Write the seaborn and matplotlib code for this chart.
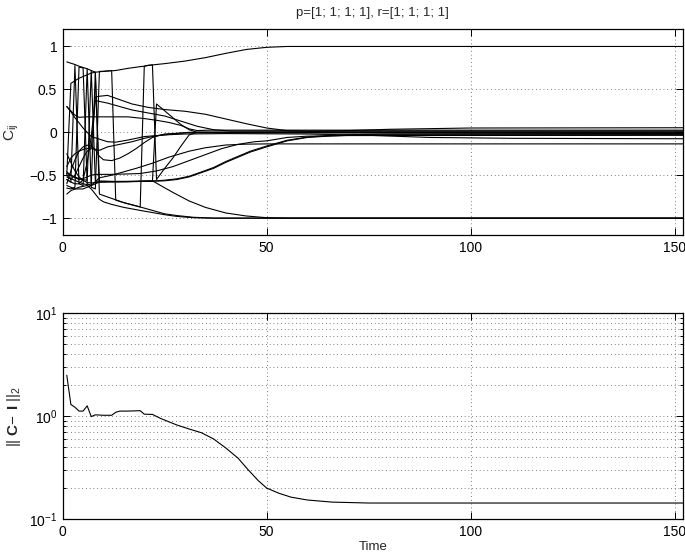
import numpy as np
import pandas as pd
import matplotlib
matplotlib.use("Agg")
import matplotlib.pyplot as plt
import seaborn as sns

# ---------------------------------------------------------------------------
# Entries C_ij of the 4x4 matrix over time (knots of each trajectory)
# ---------------------------------------------------------------------------
c_top_t = [1, 2, 3, 4, 5, 6, 7, 8, 10, 13, 16, 19, 20, 21, 22, 25, 30, 35, 40, 45, 50, 55, 152]
c_top_v = [-0.50, 0.57, 0.60, 0.63, 0.65, 0.67, 0.69, 0.70, 0.71, 0.72, 0.745, 0.765, 0.77, 0.78,
           0.785, 0.80, 0.83, 0.87, 0.92, 0.965, 0.99, 1.0, 1.0]

c_swap_t = [1, 2, 3, 4, 5, 6, 7, 8, 9, 12, 15, 19, 20, 21, 22, 23, 25, 27, 29, 31, 33, 60, 152]
c_swap_v = [0.82, 0.805, 0.79, 0.77, 0.755, 0.74, 0.72, 0.70, -0.72, -0.77, -0.82, -0.87, 0.77,
            0.78, 0.785, -0.55, -0.42, -0.30, -0.16, -0.03, 0.0, 0.005, 0.005]

c_flip1_t = [1, 2, 3, 4, 5, 6, 7, 8, 9, 10, 11, 12, 13, 15, 19, 22, 25, 28, 32, 37, 152]
c_flip1_v = [-0.55, -0.58, 0.78, -0.60, -0.62, 0.74, -0.64, -0.66, 0.71, 0.71, 0.715, 0.72,
             -0.79, -0.82, -0.87, -0.91, -0.95, -0.97, -0.99, -1.0, -1.0]

c_flip2_t = [1, 2, 3, 4, 5, 6, 7, 8, 9, 10, 13, 16, 19, 22, 24, 27, 31, 35, 40, 45, 50, 55, 152]
c_flip2_v = [-0.65, -0.66, -0.64, 0.76, 0.75, -0.60, -0.62, 0.70, -0.57, -0.57, -0.575, -0.575,
             -0.57, -0.565, -0.62, -0.70, -0.80, -0.875, -0.94, -0.975, -0.995, -1.0, -1.0]

c_low_t = [1, 2, 3, 4, 5, 6, 7, 8, 9, 10, 12, 15, 19, 22, 25, 28, 32, 37, 152]
c_low_v = [-0.72, -0.68, -0.66, -0.64, -0.63, -0.62, -0.66, -0.72, -0.78, -0.81, -0.84, -0.875,
           -0.91, -0.935, -0.96, -0.98, -0.995, -1.0, -1.0]

c_up1_t = [1, 2, 3, 4, 5, 6, 7, 8, 9, 11, 14, 17, 21, 25, 30, 35, 40, 45, 50, 55, 60, 70, 80, 100, 152]
c_up1_v = [0.30, 0.24, 0.17, 0.11, 0.05, 0.0, -0.05, 0.41, 0.42, 0.43, 0.38, 0.33, 0.29, 0.265,
           0.245, 0.21, 0.155, 0.10, 0.05, 0.02, 0.01, 0.02, 0.035, 0.05, 0.053]

c_up2_t = [1, 2, 3, 4, 5, 6, 7, 8, 11, 14, 17, 21, 25, 29, 33, 37, 41, 50, 152]
c_up2_v = [-0.40, -0.30, -0.25, -0.22, -0.20, -0.19, -0.18, 0.37, 0.34, 0.30, 0.26, 0.225, 0.19,
           0.13, 0.07, 0.03, 0.015, 0.015, 0.015]

c_up3_t = [1, 2, 3, 4, 6, 9, 13, 16, 20, 23, 26, 29, 31, 33, 36, 152]
c_up3_v = [0.30, 0.25, 0.20, 0.175, 0.18, 0.18, 0.18, 0.18, 0.16, 0.14, 0.115, 0.08, 0.04, 0.02,
           0.025, 0.025]

c_peak_t = [1, 2, 3, 4, 5, 6, 7, 8, 9, 13, 17, 20, 22, 23, 25, 27, 29, 31, 33, 152]
c_peak_v = [-0.25, -0.35, -0.45, -0.52, -0.56, -0.585, -0.59, -0.585, -0.58, -0.578, -0.575,
            -0.572, -0.57, 0.33, 0.25, 0.17, 0.09, 0.03, 0.0, -0.015]

c_sig1_t = [1, 2, 3, 4, 5, 6, 7, 8, 12, 16, 22, 25, 28, 31, 34, 37, 40, 43, 46, 50, 55, 60, 65, 70, 80, 152]
c_sig1_v = [-0.48, -0.50, -0.52, -0.54, -0.55, -0.56, 0.72, -0.57, -0.572, -0.572, -0.57, -0.565,
            -0.55, -0.52, -0.47, -0.42, -0.35, -0.29, -0.23, -0.17, -0.10, -0.06, -0.045, -0.035,
            -0.03, -0.028]

c_sig2_t = [1, 3, 5, 7, 9, 12, 16, 22, 25, 28, 31, 34, 37, 40, 43, 46, 50, 55, 60, 65, 70, 80, 152]
c_sig2_v = [-0.52, -0.56, -0.60, -0.62, -0.58, -0.575, -0.573, -0.568, -0.558, -0.542, -0.512,
            -0.462, -0.41, -0.34, -0.28, -0.22, -0.16, -0.093, -0.055, -0.038, -0.028, -0.022,
            -0.02]

c_mid_t = [1, 2, 3, 4, 5, 6, 7, 8, 12, 16, 19, 23, 27, 31, 35, 39, 43, 47, 50, 55, 60, 70, 152]
c_mid_v = [-0.46, -0.50, -0.53, -0.55, -0.54, -0.52, -0.50, -0.49, -0.49, -0.485, -0.48, -0.45,
           -0.40, -0.33, -0.26, -0.19, -0.14, -0.11, -0.10, -0.06, -0.045, -0.038, -0.035]

c_neg_t = [1, 3, 5, 7, 9, 12, 15, 18, 22, 26, 31, 35, 40, 45, 50, 152]
c_neg_v = [-0.62, -0.66, -0.66, -0.62, -0.53, -0.50, -0.46, -0.42, -0.36, -0.29, -0.22, -0.18,
           -0.148, -0.138, -0.135, -0.135]

c_loop_t = [1, 2, 3, 4, 5, 6, 7, 8, 9, 10, 12, 14, 16, 18, 20, 22, 25, 30, 152]
c_loop_v = [-0.60, -0.45, -0.32, -0.22, -0.17, -0.15, -0.16, -0.20, -0.28, -0.32, -0.33, -0.30,
            -0.25, -0.19, -0.12, -0.06, -0.02, -0.005, -0.01]

c_dip_t = [1, 2, 3, 4, 5, 6, 7, 9, 11, 13, 16, 20, 25, 30, 40, 60, 75, 90, 110, 152]
c_dip_v = [-0.55, -0.58, -0.60, -0.60, -0.55, -0.35, -0.05, -0.08, -0.11, -0.115, -0.09, -0.05,
           -0.03, -0.02, -0.015, -0.02, -0.035, -0.06, -0.07, -0.075]

c_rise_t = [1, 2, 3, 4, 5, 6, 7, 8, 9, 11, 14, 17, 20, 23, 27, 31, 152]
c_rise_v = [-0.50, -0.55, -0.50, -0.40, -0.30, -0.22, -0.19, -0.20, -0.21, -0.17, -0.14, -0.11,
            -0.07, -0.04, -0.02, 0.0, 0.0]

# ---------------------------------------------------------------------------
# Norm ||C - I||_2 over time
# ---------------------------------------------------------------------------
norm_t = [1, 2, 3, 4, 5, 6, 7, 8, 10, 12, 13, 14, 16, 19, 20, 22, 24, 28, 31, 34, 37, 40, 43,
          45.5, 48, 50, 53, 56, 60, 66, 75, 90, 110, 130, 152]
norm_v = [2.5, 1.30, 1.22, 1.12, 1.12, 1.26, 0.99, 1.03, 1.02, 1.02, 1.09, 1.12, 1.12, 1.13,
          1.045, 1.04, 0.95, 0.82, 0.75, 0.69, 0.60, 0.49, 0.39, 0.30, 0.235, 0.20, 0.178,
          0.163, 0.153, 0.146, 0.143, 0.143, 0.143, 0.143, 0.143]

title_text = "p=[1; 1; 1; 1], r=[1; 1; 1; 1]"

curves = {
    "top": (c_top_t, c_top_v), "swap": (c_swap_t, c_swap_v),
    "flip1": (c_flip1_t, c_flip1_v), "flip2": (c_flip2_t, c_flip2_v),
    "low": (c_low_t, c_low_v), "up1": (c_up1_t, c_up1_v), "up2": (c_up2_t, c_up2_v),
    "up3": (c_up3_t, c_up3_v), "peak": (c_peak_t, c_peak_v), "sig1": (c_sig1_t, c_sig1_v),
    "sig2": (c_sig2_t, c_sig2_v), "mid": (c_mid_t, c_mid_v), "neg": (c_neg_t, c_neg_v),
    "loop": (c_loop_t, c_loop_v), "dip": (c_dip_t, c_dip_v), "rise": (c_rise_t, c_rise_v),
}
frames = []
for name, (tt, vv) in curves.items():
    frames.append(pd.DataFrame({"t": tt, "c": vv, "entry": name}))
df_c = pd.concat(frames, ignore_index=True)
df_n = pd.DataFrame({"t": norm_t, "n": norm_v})

# ---------------------------------------------------------------------------
# Styling
# ---------------------------------------------------------------------------
sns.set_style("ticks")
plt.rcParams["font.family"] = ["Liberation Sans", "DejaVu Sans"]
plt.rcParams["mathtext.fontset"] = "custom"
plt.rcParams["mathtext.rm"] = "Liberation Sans"
plt.rcParams["mathtext.it"] = "Liberation Sans:italic"
plt.rcParams["mathtext.bf"] = "Liberation Sans:bold"
plt.rcParams["font.size"] = 10

W, H = 685, 557
fig = plt.figure(figsize=(W / 100, H / 100), dpi=100)
left, width = 62.7 / W, 620 / W
ax1 = fig.add_axes([left, 1 - 235.3 / H, width, 206 / H])
ax2 = fig.add_axes([left, 1 - 519 / H, width, 205.7 / H])

grid_kw = dict(color="#555555", linestyle=(0, (1, 3.5)), linewidth=0.6)


def matlab_axes(ax):
    for s in ax.spines.values():
        s.set_linewidth(0.9)
        s.set_color("black")
    ax.tick_params(which="both", direction="in", top=True, right=True,
                   labelsize=10, colors="black", width=0.7, pad=4)
    ax.tick_params(which="major", length=5)
    ax.tick_params(which="minor", length=2.5)
    ax.set_axisbelow(True)


# --- top: matrix entries ---
sns.lineplot(data=df_c, x="t", y="c", units="entry", estimator=None, sort=False,
             color="black", linewidth=0.8, ax=ax1, legend=False)
ax1.set_xlim(0, 152)
ax1.set_ylim(-1.2, 1.2)
ax1.set_xticks([0, 50, 100, 150])
ax1.set_yticks([-1, -0.5, 0, 0.5, 1])
ax1.set_yticklabels(["\u22121", "\u22120.5", "0", "0.5", "1"])
ax1.grid(True, **grid_kw)
ax1.set_xlabel("")
ax1.set_ylabel(r"$\mathrm{C}_{\mathrm{ij}}$", fontsize=11, labelpad=6)
matlab_axes(ax1)
fig.text(left + width / 2, 1 - 13 / H, title_text, ha="center", va="center", fontsize=9.5)

# --- bottom: distance to identity ---
sns.lineplot(data=df_n, x="t", y="n", color="black", linewidth=0.8, ax=ax2,
             estimator=None, sort=False)
ax2.set_yscale("log")
ax2.set_xlim(0, 152)
ax2.set_ylim(0.1, 10)
ax2.set_xticks([0, 50, 100, 150])
ax2.grid(True, which="major", **grid_kw)
ax2.grid(True, which="minor", axis="y", **grid_kw)
ax2.set_xlabel("Time", fontsize=9.5, labelpad=2)
ax2.set_ylabel(r"$||\;\mathbf{C}\!-\;\mathbf{I}\;||_2$", fontsize=11, labelpad=4)
matlab_axes(ax2)
ax2.tick_params(axis="x", which="minor", top=False, bottom=False)

fig.savefig("out.png", dpi=100)
